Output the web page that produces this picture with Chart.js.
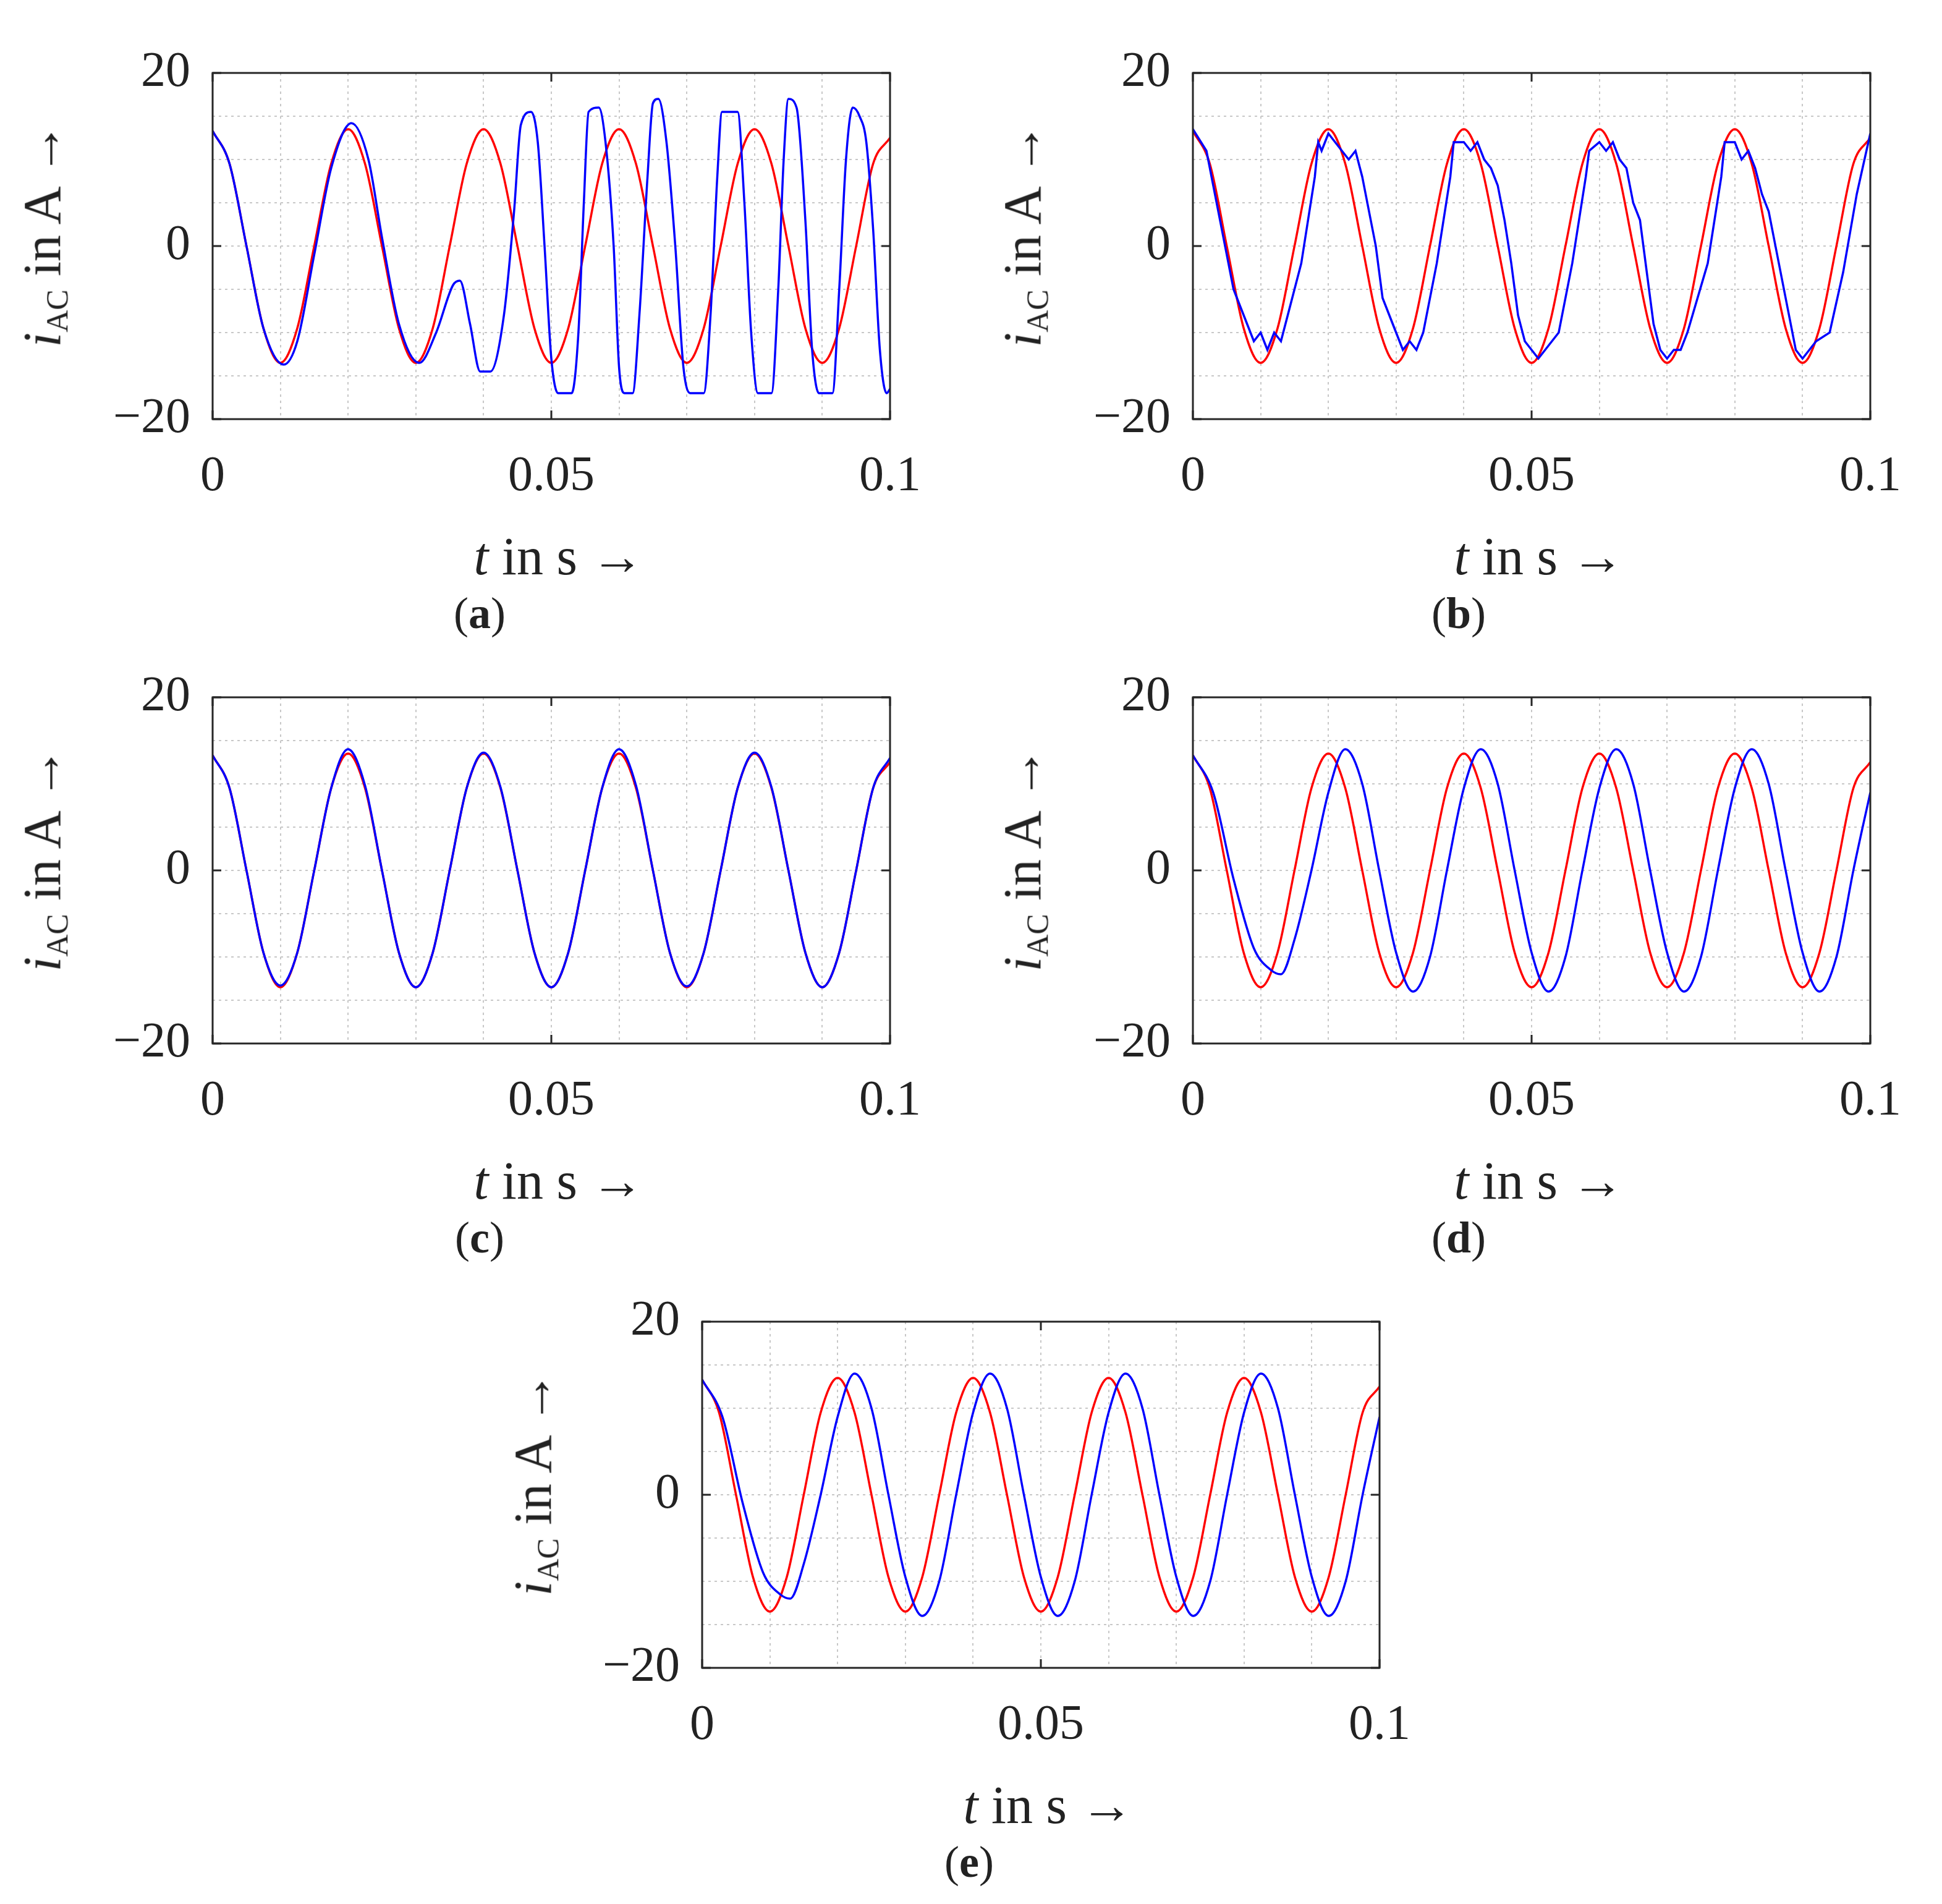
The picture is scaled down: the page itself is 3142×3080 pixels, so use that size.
<!DOCTYPE html>
<html><head><meta charset="utf-8">
<script src="https://cdn.jsdelivr.net/npm/chart.js@4.4.1/dist/chart.umd.min.js"></script>
<style>
body{margin:0;background:#fff;width:3142px;height:3080px;position:relative;overflow:hidden;font-family:"Liberation Serif","DejaVu Serif",serif;color:#222}
canvas{position:absolute}
.t{position:absolute;white-space:nowrap;font-size:86px;transform:translate(-50%,-50%)}
.y{transform:translate(-50%,-50%) rotate(-90deg)}
.cap{font-size:72px}
sub{font-size:58%;vertical-align:-0.25em}
</style></head><body>
<script>
// time grid for reference (red) current
const tRef = [];
for (let i = 0; i <= 40; i++) tRef.push(i * 0.0025);
const iRef = [13.3,9.5,0,-9.5,-13.5,-9.5,0,9.5,13.5,9.5,0,-9.5,-13.5,-9.5,0,9.5,13.5,9.5,0,-9.5,-13.5,-9.5,0,9.5,13.5,9.5,0,-9.5,-13.5,-9.5,0,9.5,13.5,9.5,0,-9.5,-13.5,-9.5,0,9.5,12.5];

const tA = [0,0.0025,0.005,0.0075,0.0105,0.0125,0.015,0.0175,0.0205,0.023,0.025,0.0275,0.0305,0.033,0.0355,0.0365,0.038,0.0395,0.041,0.043,0.0445,0.0455,0.047,0.048,0.049,0.050,0.051,0.053,0.054,0.0548,0.0555,0.057,0.058,0.0592,0.060,0.0608,0.062,0.063,0.0642,0.065,0.0658,0.067,0.0683,0.0695,0.0705,0.0725,0.0735,0.0745,0.0752,0.0775,0.0785,0.0795,0.0805,0.0825,0.0835,0.0843,0.085,0.0862,0.0875,0.0885,0.0895,0.0915,0.0925,0.0935,0.0945,0.0955,0.0965,0.0975,0.0985,0.0995,0.1];
const iA = [13.3,9.5,0,-9.5,-13.7,-11,-1,9,14.2,10,1,-9,-13.5,-10,-4.5,-4,-9,-14.5,-14.5,-8,4,14,15.5,12,0,-13,-17,-17,-10,5,15.5,16,12,0,-14,-17,-17,-8,8,16.5,17,12,0,-14,-17,-17,-8,8,15.5,15.5,5,-10,-17,-17,-5,10,17,16,3,-12,-17,-17,-5,10,16,15,12,2,-12,-17,-16.5];

const tB = [0,0.002,0.004,0.006,0.008,0.009,0.010,0.011,0.012,0.013,0.014,0.016,0.018,0.0185,0.019,0.020,0.021,0.022,0.023,0.024,0.025,0.026,0.027,0.028,0.029,0.030,0.031,0.032,0.033,0.034,0.036,0.038,0.0385,0.040,0.041,0.042,0.043,0.044,0.045,0.046,0.047,0.048,0.049,0.050,0.051,0.052,0.053,0.054,0.056,0.058,0.0585,0.060,0.061,0.062,0.063,0.064,0.065,0.066,0.067,0.068,0.069,0.070,0.071,0.072,0.073,0.076,0.078,0.0785,0.080,0.081,0.082,0.083,0.084,0.085,0.086,0.087,0.088,0.089,0.090,0.091,0.092,0.094,0.096,0.098,0.1];
const iB = [13.5,11,3,-5,-9,-11,-10,-12,-10,-11,-8,-2,8,12,11,13,12,11,10,11,8,4,0,-6,-8,-10,-12,-11,-12,-10,-2,8,12,12,11,12,10,9,7,3,-2,-8,-11,-12,-13,-12,-11,-10,-2,8,11,12,11,12,10,9,5,3,-3,-9,-12,-13,-12,-12,-10,-2,8,12,12,10,11,9,6,4,0,-4,-8,-12,-13,-12,-11,-10,-3,6,13];

const iC = [13.3,9.5,0,-9.5,-13.3,-9.5,0,9.5,14,9.8,0,-9.5,-13.5,-9.5,0,9.5,13.6,9.6,0,-9.5,-13.5,-9.5,0,9.5,14,9.8,0,-9.5,-13.4,-9.5,0,9.5,13.6,9.6,0,-9.5,-13.5,-9.5,0,9.5,13];

const tD = [0,0.003,0.006,0.009,0.0115,0.013,0.015,0.0175,0.02,0.0225,0.025,0.0275,0.03,0.0325,0.035,0.0375,0.04,0.0425,0.045,0.0475,0.05,0.0525,0.055,0.0575,0.06,0.0625,0.065,0.0675,0.07,0.0725,0.075,0.0775,0.08,0.0825,0.085,0.0875,0.09,0.0925,0.095,0.0975,0.1];
const iD = [13.3,9,-1,-9,-11.5,-12,-8,0,9,14,10,0,-9.5,-14,-10,0,9.5,14,10,0,-9.5,-14,-10,0,9.5,14,10,0,-9.5,-14,-10,0,9.5,14,10,0,-9.5,-14,-10,0,9];

const xTicks = [0, 0.05, 0.1];
const yTicks = [-20, 0, 20];
const xLabels = ['0', '0.05', '0.1'];
const yLabels = ['\u221220', '0', '20'];

function pts(t, v){ return t.map((x,i)=>({x, y:v[i]})); }

const frame = {
  id:'frame',
  afterDatasetsDraw(c){
    const {ctx, chartArea:a, scales:{x, y}} = c;
    ctx.save();
    ctx.strokeStyle='#262626'; ctx.lineWidth=3;
    ctx.strokeRect(a.left, a.top, a.right-a.left, a.bottom-a.top);
    ctx.beginPath();
    xTicks.forEach(v=>{const px=x.getPixelForValue(v);ctx.moveTo(px,a.bottom);ctx.lineTo(px,a.bottom-14);ctx.moveTo(px,a.top);ctx.lineTo(px,a.top+14);});
    yTicks.forEach(v=>{const py=y.getPixelForValue(v);ctx.moveTo(a.left,py);ctx.lineTo(a.left+14,py);ctx.moveTo(a.right,py);ctx.lineTo(a.right-14,py);});
    ctx.stroke(); ctx.restore();
  }
};

function panel(left, top, blue, tension){
  const cv = document.createElement('canvas');
  cv.width = 1522; cv.height = 764;
  cv.style.left = left+'px'; cv.style.top = top+'px';
  document.body.appendChild(cv);
  new Chart(cv, {
    type:'line',
    data:{datasets:[
      {data:blue, borderColor:'#0000ff', borderWidth:3.5, pointRadius:0, tension:tension, cubicInterpolationMode: tension? 'monotone':'default'},
      {data:pts(tRef,iRef), borderColor:'#ff0000', borderWidth:3.5, pointRadius:0, cubicInterpolationMode:'monotone'}
    ]},
    options:{
      responsive:false, animation:false, devicePixelRatio:1,
      layout:{padding:{top:40,right:70}},
      plugins:{legend:{display:false}, tooltip:{enabled:false}},
      scales:{
        x:{type:'linear', min:0, max:0.1,
          afterBuildTicks(s){ s.ticks = []; for(let i=0;i<=10;i++) s.ticks.push({value:i/100}); },
          afterFit(s){ s.height=120; },
          grid:{color:'#c8c8c8', lineWidth:2, drawTicks:false},
          border:{display:false, dash:[4,6]},
          ticks:{padding:46, maxRotation:0, autoSkip:false, color:'#222', font:{family:'Liberation Serif', size:80},
            callback(v){ const k = xTicks.findIndex(t=>Math.abs(t-v)<1e-9); return k<0?'':xLabels[k]; }}},
        y:{min:-20, max:20,
          afterBuildTicks(s){ s.ticks = []; for(let v=-20;v<=20;v+=5) s.ticks.push({value:v}); },
          afterFit(s){ s.width=330; },
          grid:{color:'#c8c8c8', lineWidth:2, drawTicks:false},
          border:{display:false, dash:[4,6]},
          ticks:{padding:36, autoSkip:false, color:'#222', font:{family:'Liberation Serif', size:80},
            callback(v){ const k = yTicks.indexOf(v); return k<0?'':yLabels[k]; }}}
      }
    },
    plugins:[frame]
  });
}

function text(html, x, y, cls){
  const d=document.createElement('div'); d.className='t '+(cls||''); d.innerHTML=html;
  d.style.left=x+'px'; d.style.top=y+'px'; document.body.appendChild(d);
}

const layouts = [
  {l:14,   t:34,   blue:pts(tA,iA), ten:0.3, yt:[70,380],   xt:[904,900],   cp:[776,992],   c:'a'},
  {l:1600, t:34,   blue:pts(tB,iB), ten:0,   yt:[1656,380], xt:[2490,900],  cp:[2360,992],  c:'b'},
  {l:14,   t:1044, blue:pts(tRef,iC), ten:0.4, yt:[70,1390],  xt:[904,1910],  cp:[776,2002],  c:'c'},
  {l:1600, t:1044, blue:pts(tD,iD), ten:0.4, yt:[1656,1390],xt:[2490,1910], cp:[2360,2002], c:'d'},
  {l:806,  t:2054, blue:pts(tD,iD), ten:0.4, yt:[864,2400], xt:[1696,2920], cp:[1568,3012], c:'e'}
];
layouts.forEach(p=>{
  panel(p.l, p.t, p.blue, p.ten);
  text('<i>i</i><sub>AC</sub> in A \u2192', p.yt[0], p.yt[1], 'y');
  text('<i>t</i> in s \u2192', p.xt[0], p.xt[1]);
  text('(<b>'+p.c+'</b>)', p.cp[0], p.cp[1], 'cap');
});
</script>
</body></html>
